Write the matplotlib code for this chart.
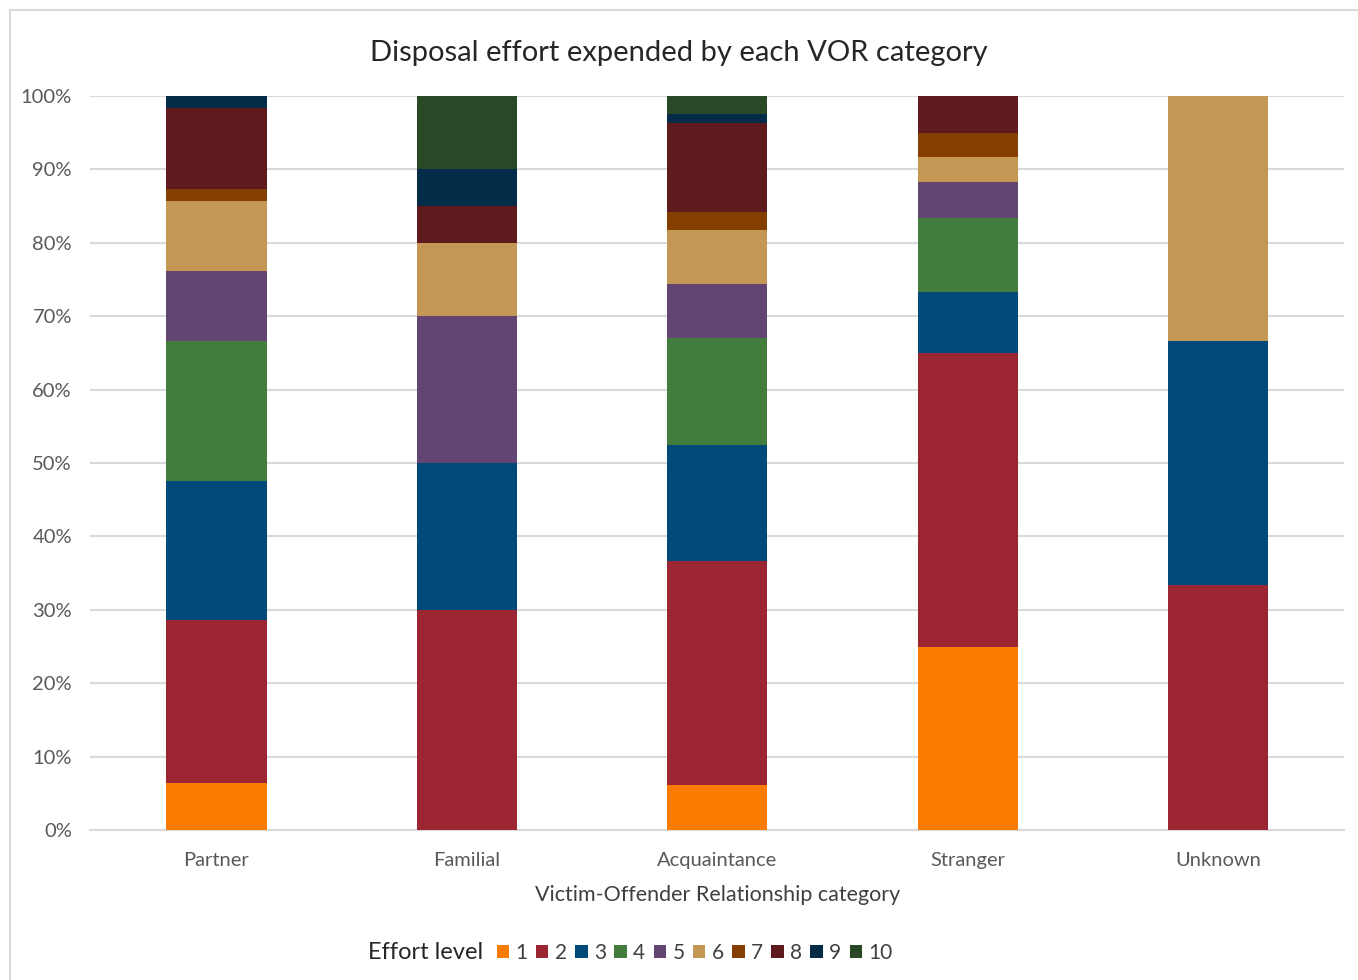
import numpy as np
import matplotlib.pyplot as plt
from matplotlib.patches import Rectangle

plt.rcParams["font.family"] = ["Lato", "DejaVu Sans"]

categories = ["Partner", "Familial", "Acquaintance", "Stranger", "Unknown"]
levels = ["1", "2", "3", "4", "5", "6", "7", "8", "9", "10"]
colors = [
    "#f97b00",
    "#9b2530",
    "#004a7a",
    "#437d3e",
    "#634574",
    "#c59754",
    "#843f00",
    "#5e1a1d",
    "#042b47",
    "#284826",
]
# percent of cases at each effort level, one list per VOR category
partner = [6.35, 22.22, 19.05, 19.05, 9.52, 9.52, 1.59, 11.11, 1.59, 0]
familial = [0, 30, 20, 0, 20, 10, 0, 5, 5, 10]
acquaintance = [6.10, 30.49, 15.85, 14.63, 7.32, 7.32, 2.44, 12.20, 1.22, 2.44]
stranger = [25, 40, 8.33, 10, 5, 3.33, 3.33, 5, 0, 0]
unknown = [0, 33.33, 33.33, 0, 0, 33.34, 0, 0, 0, 0]

data = np.array([partner, familial, acquaintance, stranger, unknown]) / 100

fig = plt.figure(figsize=(13.58, 9.8), dpi=100)
ax = fig.add_axes([0.0663, 0.153, 0.9237, 0.749])

x = np.arange(len(categories))
bottom = np.zeros(len(categories))
for i, lvl in enumerate(levels):
    ax.bar(x, data[:, i], 0.4, bottom=bottom, color=colors[i], label=lvl, zorder=3)
    bottom += data[:, i]

ax.set_xlim(-0.505, 4.505)
ax.set_ylim(0, 1)
ax.set_yticks(np.arange(0, 1.01, 0.1))
ax.set_yticklabels(["{0}%".format(int(round(v * 100))) for v in np.arange(0, 1.01, 0.1)])
ax.set_xticks(x)
ax.set_xticklabels(categories)
ax.tick_params(axis="both", length=0, labelsize=14.5, colors="#595959")
ax.tick_params(axis="x", pad=16)
ax.tick_params(axis="y", pad=13)
ax.grid(axis="y", color="#d9d9d9", linewidth=1.5, zorder=0)
for s in ["left", "right", "top"]:
    ax.spines[s].set_visible(False)
ax.spines["bottom"].set_color("#d9d9d9")
ax.spines["bottom"].set_linewidth(1.5)

ax.set_xlabel("Victim-Offender Relationship category", fontsize=15.5, color="#404040", labelpad=11)
fig.text(0.5, 0.946, "Disposal effort expended by each VOR category",
         ha="center", va="center", fontsize=21, color="#262626")

fig.text(0.356, 0.028, "Effort level", ha="right", va="center", fontsize=17, color="#262626")
fig.legend(loc="center left", bbox_to_anchor=(0.352, 0.028), ncol=10, frameon=False,
           fontsize=15, handlelength=0.6, handleheight=0.6, handletextpad=0.3,
           columnspacing=0.4, labelcolor="#404040")

fig.add_artist(Rectangle((0.0075, -0.01), 1.0, 1.0, transform=fig.transFigure,
                         fill=False, edgecolor="#d9d9d9", linewidth=1.5))

fig.savefig("out.png", dpi=100)
